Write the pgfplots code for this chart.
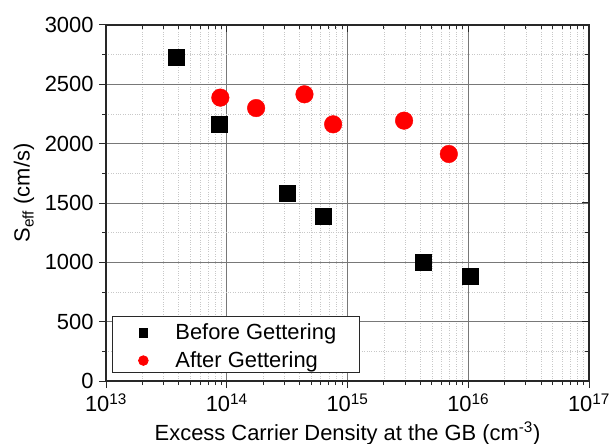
\documentclass[border=0pt]{standalone}
\usepackage{fontspec}
\setmainfont{Liberation Sans}
\usepackage{pgfplots}
\pgfplotsset{compat=1.18}

\definecolor{majgrid}{RGB}{120,120,120}
\definecolor{mingrid}{RGB}{200,200,200}
\definecolor{axline}{RGB}{40,40,40}

\newcommand{\chartfont}{\fontsize{22}{26}\selectfont}

\pgfplotsset{
  sefffrm/.style={
    scale only axis, width=483bp, height=356bp,
    at={(0,0)}, anchor=south west,
    xmin=1e13, xmax=1e17,
    ymin=0, ymax=3000,
    ytick={0,500,...,3000}, minor y tick num=1,
    xtick={1e13,1e14,1e15,1e16,1e17},
    major tick length=7bp, minor tick length=4bp,
    axis line style={axline, line width=1.1pt},
    every tick/.style={axline, line width=1pt},
    every minor tick/.style={axline, line width=0.9pt},
    tick label style={font=\chartfont},
    /pgf/number format/assume math mode=true,
  },
}

\begin{document}
\begin{tikzpicture}
% main axis: grid, data, outward ticks on the left and bottom
\begin{axis}[
  xmode=log,
  sefffrm,
  tick align=outside,
  xtick pos=bottom, ytick pos=left,
  grid=both,
  major grid style={majgrid, line width=0.7pt},
  minor grid style={mingrid, dotted, line width=0.6pt},
  xticklabels={10\textsuperscript{13},10\textsuperscript{14},10\textsuperscript{15},10\textsuperscript{16},10\textsuperscript{17}},
  xticklabel style={yshift=-2bp},
  yticklabel style={xshift=-2bp},
  /pgf/number format/set thousands separator={},
  xlabel={Excess Carrier Density at the GB (cm\textsuperscript{-3})},
  ylabel={S\textsubscript{eff} (cm/s)},
  label style={font=\chartfont},
  xlabel style={at={(axis description cs:0.5,0)}, anchor=base, yshift=-59bp},
  ylabel style={at={(axis description cs:-0.1698,0.528)}, anchor=center},
  legend style={at={(axis description cs:0.0124,0.0225)}, anchor=south west,
    draw=axline, line width=0.8pt, fill=white, font=\chartfont,
    inner xsep=23bp, inner ysep=0bp, row sep=0pt, column sep=0pt,
    nodes={inner xsep=0pt, inner ysep=5.5bp, text height=17bp, text depth=0pt}},
  legend cell align=left,
  legend image code/.code={%
    \path[draw=none, fill=none] (0bp,-4bp) rectangle (40bp,4bp);
    \draw[#1, scale=0.55] plot coordinates {(14.5bp,-3.6bp)};
  },
]
\addplot[only marks, mark=square*, mark size=8bp, black] coordinates {
  (3.78e13,2730) (8.7e13,2163) (3.18e14,1584)
  (6.3e14,1388) (4.2e15,1000) (1.04e16,885)
};
\addlegendentry{Before Gettering}
\addplot[only marks, mark=*, mark size=8.8bp, red, draw=red] coordinates {
  (8.85e13,2388) (1.75e14,2300) (4.4e14,2416)
  (7.6e14,2163) (2.94e15,2194) (6.9e15,1913)
};
\addlegendentry{After Gettering}
\end{axis}
% mirrored ticks pointing inward on the top and right
\begin{axis}[
  xmode=log,
  sefffrm,
  tick align=inside,
  xtick pos=top, ytick pos=right,
  xticklabels={}, yticklabels={},
]
\end{axis}
\pgfresetboundingbox
\useasboundingbox (-106bp,-63bp) rectangle (504bp,381bp);
\end{tikzpicture}
\end{document}
